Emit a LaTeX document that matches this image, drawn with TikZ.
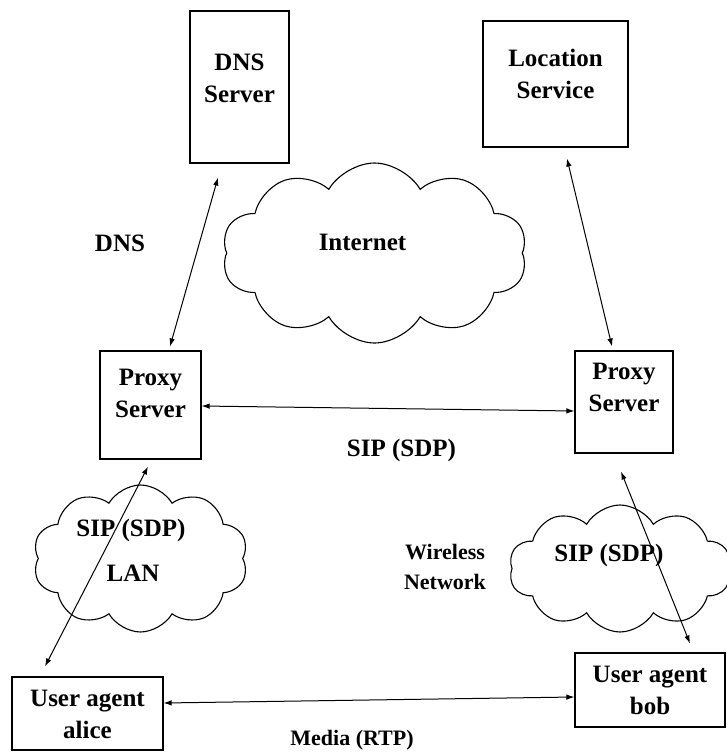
\documentclass[tikz,border=0pt]{standalone}
\usepackage{fontspec}
\setmainfont{Liberation Serif}
\usetikzlibrary{arrows.meta,shapes.symbols}
\tikzstyle{box}=[draw,line width=1.1pt,inner sep=0pt]
\tikzstyle{txt}=[align=center,font=\bfseries\fontsize{25}{32}\selectfont]
\tikzstyle{smalltxt}=[align=center,font=\bfseries\fontsize{22}{30}\selectfont]
\tikzstyle{net}=[cloud,draw,line width=1.1pt,cloud puffs=10,cloud puff arc=120,inner sep=0pt]
\tikzstyle{link}=[draw,line width=1pt,<->,>={Latex[length=8pt,width=5.5pt]}]

\begin{document}
\begin{tikzpicture}[x=1pt,y=-1pt]
    \useasboundingbox (0,0) rectangle (727,753);
    % First we draw the clouds
    \foreach \pos/\name/\bw/\bh in {{(374.5,253)/inet/305/180}, {(140.5,558.5)/lan/215/147}, {(620,568.5)/wlan/222/127}}
        \node[net, minimum width=\bw pt, minimum height=\bh pt] (\name) at \pos {};
    % Then the boxes
    \foreach \pos/\name/\bw/\bh in {{(239.5,87)/dns/99/152}, {(555.5,84)/loc/145/126}, {(150.5,405)/pxa/101/108}, {(624,402)/pxb/98/102}, {(87.5,713.5)/ua/151/73}, {(650,690)/ub/150/74}}
        \node[box, minimum width=\bw pt, minimum height=\bh pt] (\name) at \pos {};
    % Texts in the boxes
    \node[txt] (dnst) at (239.5,78.5) {DNS\\Server};
    \node[txt] (loct) at (555.5,74) {Location\\Service};
    \node[txt] (pxat) at (150.5,393) {Proxy\\Server};
    \node[txt] (pxbt) at (624,387.5) {Proxy\\Server};
    \node[txt] (uat) at (87.5,714.5) {User agent\\alice};
    \node[txt] (ubt) at (650,690) {User agent\\bob};
    % Texts in the clouds
    \node[txt] (inett) at (362.5,242) {Internet};
    \node[txt] (lans) at (131,530) {SIP (SDP)};
    \node[txt] (lant) at (133,573) {LAN};
    \node[txt] (wlans) at (609,555) {SIP (SDP)};
    % Other labels
    \node[txt] (dnsl) at (120,243) {DNS};
    \node[txt] (sipl) at (401.5,450) {SIP (SDP)};
    \node[smalltxt] (wlanl) at (445,567) {Wireless\\Network};
    \node[smalltxt] (medial) at (352,740) {Media (RTP)};
    % Connect with arrows
    \path[link] ([xshift=-21.5pt,yshift=-14pt]dns.south) -- ([xshift=19.5pt,yshift=4pt]pxa.north);
    \path[link] ([xshift=11.5pt,yshift=-11pt]loc.south) -- ([xshift=-12pt,yshift=4pt]pxb.north);
    \path[link] ([yshift=-1pt]pxa.east) -- ([yshift=-9pt]pxb.west);
    \path[link] ([xshift=-2.5pt,yshift=-7pt]pxa.south) -- ([xshift=-42.5pt,yshift=10pt]ua.north);
    \path[link] ([xshift=-3pt,yshift=-18pt]pxb.south) -- ([xshift=40pt,yshift=9pt]ub.north);
    \path[link] ([yshift=10.5pt]ua.east) -- ([yshift=-7pt]ub.west);
\end{tikzpicture}
\end{document}
